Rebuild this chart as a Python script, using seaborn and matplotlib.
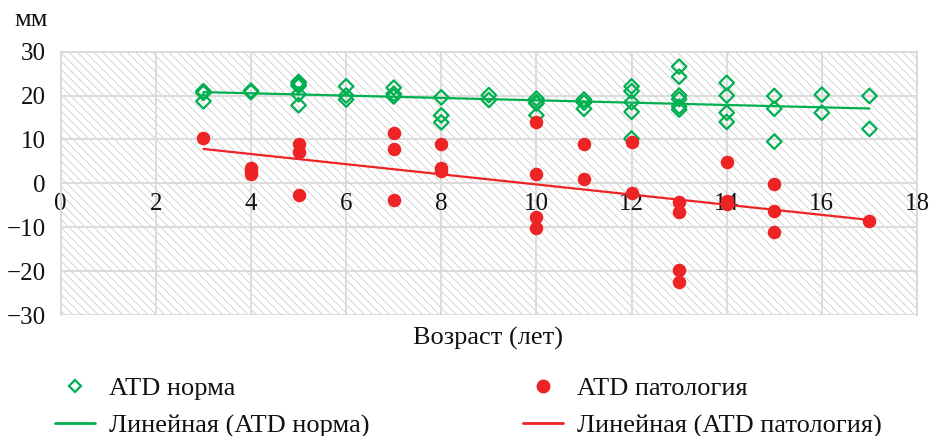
import numpy as np
import pandas as pd
import matplotlib
matplotlib.use("Agg")
import matplotlib.pyplot as plt
import seaborn as sns
from matplotlib.patches import Rectangle
from matplotlib.lines import Line2D

# ---- data ----
norm_age = [3, 3, 3,
            4, 4,
            5, 5, 5, 5, 5,
            6, 6, 6,
            7, 7, 7,
            8, 8, 8,
            9, 9,
            10, 10, 10, 10,
            11, 11, 11,
            12, 12, 12, 12, 12,
            13, 13, 13, 13, 13, 13,
            14, 14, 14, 14,
            15, 15, 15,
            16, 16,
            17, 17]
norm_atd = [21.0, 20.6, 18.7,
            21.1, 20.8,
            23.1, 22.6, 22.2, 20.3, 17.8,
            22.1, 20.0, 19.1,
            21.8, 20.4, 19.8,
            19.6, 15.5, 13.9,
            20.1, 19.0,
            19.3, 18.5, 18.2, 15.5,
            19.1, 18.4, 17.0,
            22.1, 21.0, 18.5, 16.3, 10.2,
            26.6, 24.3, 20.0, 19.2, 17.5, 16.8,
            22.9, 20.0, 16.1, 14.0,
            19.9, 17.0, 9.5,
            20.2, 16.1,
            19.9, 12.4]

path_age = [3,
            4, 4, 4,
            5, 5, 5,
            7, 7, 7,
            8, 8, 8,
            10, 10, 10, 10,
            11, 11,
            12, 12,
            13, 13, 13, 13,
            14, 14, 14,
            15, 15, 15,
            17]
path_atd = [10.4,
            3.5, 2.9, 2.1,
            8.9, 7.2, -2.7,
            11.4, 7.9, -3.9,
            8.9, 3.5, 2.8,
            14.0, 2.1, -7.7, -10.1,
            8.9, 1.0,
            9.5, -2.3,
            -4.2, -6.6, -19.7, -22.5,
            4.8, -4.0, -4.6,
            -0.1, -6.4, -11.0,
            -8.5]

x_ticks = [0, 2, 4, 6, 8, 10, 12, 14, 16, 18]
y_ticks = [-30, -20, -10, 0, 10, 20, 30]

label_norm = "ATD норма"
label_path = "ATD патология"
label_norm_fit = "Линейная (ATD норма)"
label_path_fit = "Линейная (ATD патология)"
x_title = "Возраст (лет)"
y_unit = "мм"

GREEN = "#00B050"
RED = "#EE2326"
GRID = "#D9D9D9"
TXT = "#111111"
FONT = "Liberation Serif"
FS_TICK = 18
FS = 19

sns.set_theme(style="white")
plt.rcParams["font.family"] = [FONT, "DejaVu Serif"]
plt.rcParams["hatch.linewidth"] = 0.6

W, H = 930, 436
fig = plt.figure(figsize=(W / 100, H / 100), dpi=100)
L, R, T, B = 60.7, 917.0, 51.7, 315.0
ax = fig.add_axes([L / W, 1 - B / H, (R - L) / W, (B - T) / H])

# hatched background
ax.add_patch(Rectangle((0, 0), 1, 1, transform=ax.transAxes, facecolor="white",
                       edgecolor="#CDCDCD", hatch="\\\\\\\\", linewidth=0, zorder=0))

df_n = pd.DataFrame({"age": norm_age, "atd": norm_atd})
df_p = pd.DataFrame({"age": path_age, "atd": path_atd})

sns.regplot(data=df_n, x="age", y="atd", scatter=False, ci=None, ax=ax,
            color=GREEN, line_kws=dict(lw=1.6, zorder=3))
sns.regplot(data=df_p, x="age", y="atd", scatter=False, ci=None, ax=ax,
            color=RED, line_kws=dict(lw=1.6, zorder=3))
sns.scatterplot(data=df_n, x="age", y="atd", ax=ax, marker="D", s=55,
                facecolor="none", edgecolor=GREEN, linewidth=1.6, zorder=4)
sns.scatterplot(data=df_p, x="age", y="atd", ax=ax, marker="o", s=95,
                color=RED, edgecolor=RED, linewidth=0, zorder=4)

ax.set_xlim(0, 18)
ax.set_ylim(-30, 30)
ax.set_xticks(x_ticks)
ax.set_yticks(y_ticks)
ax.set_xticklabels([str(v) for v in x_ticks])
ax.set_yticklabels([f"{v}".replace("-", "\u2212") for v in y_ticks])
ax.set_xlabel("")
ax.set_ylabel("")
ax.grid(True, color=GRID, lw=1.3, zorder=1)
ax.set_axisbelow(True)
for s in ["top", "left", "right"]:
    ax.spines[s].set_color(GRID)
    ax.spines[s].set_linewidth(1.3)
ax.spines["bottom"].set_position(("data", 0))
ax.spines["bottom"].set_color("none")
ax.tick_params(axis="both", length=0, labelsize=FS_TICK, labelcolor=TXT)
ax.tick_params(axis="x", pad=7)
ax.tick_params(axis="y", pad=11)
for lab in ax.get_xticklabels():
    lab.set_zorder(5)

fig.text(48 / W, 1 - 20 / H, y_unit, ha="right", va="center", fontsize=FS, color=TXT)
fig.text(488 / W, 1 - 338 / H, x_title, ha="center", va="center", fontsize=FS, color=TXT)

h_n = Line2D([], [], ls="none", marker="D", ms=6, mfc="none", mec=GREEN, mew=1.6)
h_nf = Line2D([], [], color=GREEN, lw=2)
h_p = Line2D([], [], ls="none", marker="o", ms=9, mfc=RED, mec=RED)
h_pf = Line2D([], [], color=RED, lw=2)
common = dict(frameon=False, fontsize=FS, borderpad=0, borderaxespad=0,
              handlelength=1.52, handletextpad=0.53, labelspacing=0.52,
              labelcolor=TXT)
leg1 = fig.legend([h_n, h_nf], [label_norm, label_norm_fit], loc="center left",
                  bbox_to_anchor=(55 / W, 1 - 407 / H), **common)
leg2 = fig.legend([h_p, h_pf], [label_path, label_path_fit], loc="center left",
                  bbox_to_anchor=(523 / W, 1 - 407 / H), **common)

fig.savefig("out.png", dpi=100)
